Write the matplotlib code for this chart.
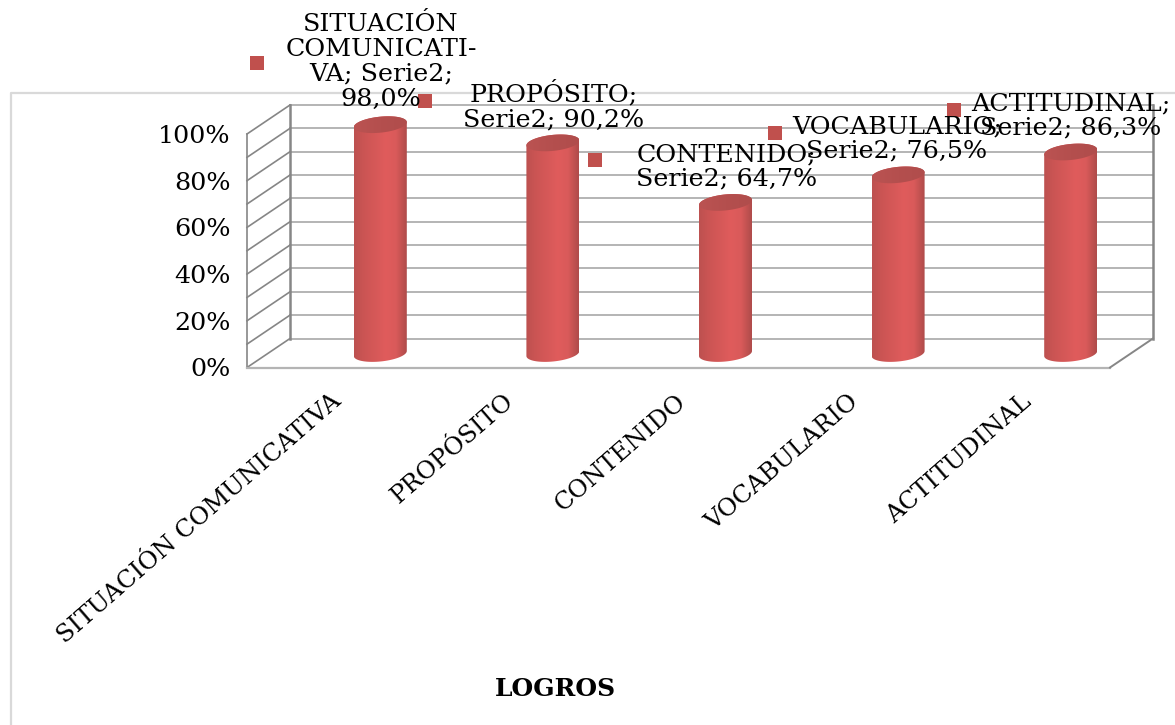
import numpy as np
import matplotlib
matplotlib.use("Agg")
import matplotlib.pyplot as plt
from matplotlib.colors import LinearSegmentedColormap
from matplotlib.patches import Polygon, Rectangle
from matplotlib.transforms import Affine2D

W, H = 1175, 725
categorias = ["SITUACIÓN COMUNICATIVA", "PROPÓSITO", "CONTENIDO", "VOCABULARIO", "ACTITUDINAL"]
logros = [98.0, 90.2, 64.7, 76.5, 86.3]
nombres_etiqueta = ["SITUACIÓN\nCOMUNICATI-\nVA; Serie2;", "PROPÓSITO;\nSerie2;", "CONTENIDO;\nSerie2;",
                    "VOCABULARIO;\nSerie2;", "ACTITUDINAL;\nSerie2;"]
separador = ["\n", " ", " ", " ", " "]
yticks = [0, 20, 40, 60, 80, 100]
rejilla = np.arange(0, 101, 10)

# label layout in pixels from the top left: text centre, text centre y, legend key
pos_texto = [(381, 62), (554, 106), (727, 167), (897, 139), (1071, 116)]
pos_clave = [(257, 63), (425, 101), (595, 160), (775, 133), (954, 110)]

RED = "#c0504d"
GRID = "#b4b4b4"
WALL = "#868686"
FONT = "DejaVu Serif"
plt.rcParams["font.family"] = FONT

fig = plt.figure(figsize=(W / 100, H / 100), dpi=100)
# front plane of the 3D box
x0, x1, ytop, ybot = 247, 1110, 134, 367.5
ax = fig.add_axes([x0 / W, 1 - ybot / H, (x1 - x0) / W, (ybot - ytop) / H])
ax.set_xlim(-0.5, 4.5)
ax.set_ylim(0, 100)
ax.patch.set_visible(False)
for s in ax.spines.values():
    s.set_visible(False)

sx = (x1 - x0) / 5
sy = (ybot - ytop) / 100
back = ax.transData + Affine2D().translate(43, 29)    # back wall
mid = ax.transData + Affine2D().translate(47, 14)     # plane of the cylinders

# ---- outer chart border -----------------------------------------------------
fig.add_artist(plt.Line2D([11 / W, 11 / W, 1], [0, 1 - 92.5 / H, 1 - 92.5 / H], color="#d9d9d9", lw=1.6))

# ---- walls and floor --------------------------------------------------------
for v in rejilla:
    ax.plot([-0.5, 4.5], [v, v], transform=back, color=GRID, lw=1.4, clip_on=False, zorder=1)
    p0 = ax.transData.transform((-0.5, v))
    p1 = back.transform((-0.5, v))
    ax.plot([p0[0], p1[0]], [p0[1], p1[1]], transform=None, color=WALL, lw=1.2, clip_on=False, zorder=1)
ax.plot([-0.5, -0.5], [0, 100], color=WALL, lw=1.2, clip_on=False, zorder=1)
ax.plot([-0.5, -0.5], [0, 100], transform=back, color=WALL, lw=1.8, clip_on=False, zorder=1)
ax.plot([4.5, 4.5], [0, 100], transform=back, color=WALL, lw=1.8, clip_on=False, zorder=1)
ax.plot([-0.5, 4.5], [0, 0], color="#b4b4b4", lw=1.6, clip_on=False, zorder=1)
p0 = ax.transData.transform((4.5, 0))
p1 = back.transform((4.5, 0))
ax.plot([p0[0], p1[0]], [p0[1], p1[1]], transform=None, color=WALL, lw=1.4, clip_on=False, zorder=1)

# ---- cylinders --------------------------------------------------------------
cuerpo = LinearSegmentedColormap.from_list("cuerpo", [(0, "#bd5150"), (0.15, "#c95453"), (0.6, "#e05c5c"),
                                                      (0.8, "#d95a5a"), (0.9, "#c45352"), (1, "#b04c4b")])
tapa = LinearSegmentedColormap.from_list("tapa", ["#bb5352", "#b44f4e", "#b04d4c"])
hw = 26.5 / sx
by = 8.0 / sy
tilt = 2.5 / sy
t = np.linspace(0, 2 * np.pi, 121)


def elipse(cx, v):
    return cx + hw * np.cos(t), v + by * np.sin(t) + tilt * np.cos(t)


for i, v in enumerate(logros):
    ex, ey = elipse(i, v)
    bx, bey = elipse(i, 0)
    lado = t <= np.pi
    abajo = t >= np.pi
    xs = np.r_[ex[lado], bx[abajo]]
    ys = np.r_[ey[lado], bey[abajo]]
    clip = Polygon(np.column_stack([xs, ys]), transform=mid, fc="none", ec="none", clip_on=False)
    ax.add_patch(clip)
    ext = [i - hw, i + hw, -by * 2, v + by * 2]
    im = ax.imshow(np.linspace(0, 1, 64)[None, :], extent=ext, transform=mid, cmap=cuerpo,
                   aspect="auto", zorder=3)
    im.set_clip_box(fig.bbox)
    im.set_clip_path(clip)
    top = Polygon(np.column_stack([ex, ey]), transform=mid, fc="none", ec="none", clip_on=False)
    ax.add_patch(top)
    im2 = ax.imshow(np.linspace(0, 1, 64)[None, :], extent=ext, transform=mid, cmap=tapa,
                    aspect="auto", zorder=4)
    im2.set_clip_box(fig.bbox)
    im2.set_clip_path(top)

ax.set_xlim(-0.5, 4.5)
ax.set_ylim(0, 100)

# ---- axis labels ------------------------------------------------------------
ax.set_yticks(yticks)
ax.set_yticklabels([f"{v}%" for v in yticks], fontsize=18.3, color="black")
ax.tick_params(axis="y", length=0, pad=12)
ax.set_xticks(range(len(categorias)))
ax.set_xticklabels(categorias, rotation=41, ha="right", va="top", rotation_mode="anchor", fontsize=17.6)
ax.tick_params(axis="x", length=0, pad=16)
for lab in ax.get_xticklabels():
    lab.set_transform(lab.get_transform() + Affine2D().translate(-3, 0))
fig.text(555 / W, 1 - 689 / H, "LOGROS", ha="center", va="center", fontsize=18, fontweight="bold")

# ---- data labels with their legend keys -------------------------------------
for nombre, sep, v, pt, pk in zip(nombres_etiqueta, separador, logros, pos_texto, pos_clave):
    txt = nombre + sep + f"{v:.1f}".replace(".", ",") + "%"
    fig.text(pt[0] / W, 1 - pt[1] / H, txt, ha="center", va="center", fontsize=18.3,
             linespacing=1.1, zorder=6)
    fig.add_artist(Rectangle(((pk[0] - 7) / W, 1 - (pk[1] + 7) / H), 14 / W, 14 / H,
                             transform=fig.transFigure, fc=RED, ec="none", zorder=6))

fig.savefig("out.png", dpi=100)
